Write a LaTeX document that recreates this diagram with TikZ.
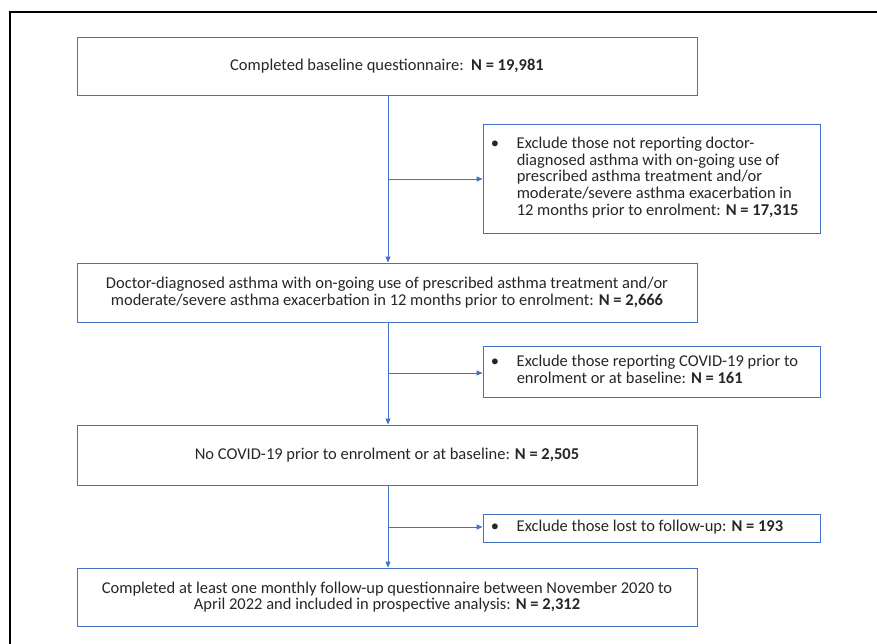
\documentclass[tikz,border=0pt]{standalone}
\usepackage{fontspec}
\setmainfont{Carlito}
\usetikzlibrary{arrows.meta}
\definecolor{obl}{HTML}{4472C4}
\definecolor{txt}{HTML}{262626}
\tikzset{
  box/.style={draw=obl, line width=0.9pt, rectangle, inner sep=0pt, align=center, text=txt,
    font=\fontsize{16.5}{16.8}\selectfont},
  exbox/.style={draw=obl, line width=0.9pt, rectangle, inner sep=0pt},
  extxt/.style={anchor=west, inner sep=0pt, text=txt, font=\fontsize{16.5}{16.8}\selectfont},
  conn/.style={draw=obl, line width=0.9pt, -{Triangle[length=6pt,width=5pt]}},
}
\newcommand{\exlist}[1]{\begin{tabular}{@{}p{26pt}@{}l@{}}\textbullet & #1\end{tabular}}
\begin{document}
\begin{tikzpicture}[x=1pt,y=-1pt]
\useasboundingbox (0,0) rectangle (877,644);
\draw[line width=2.6pt] (10,650) -- (10,12) -- (885,12);

\node[box, minimum width=620, minimum height=58] (b1) at (387,66)
  {Completed baseline questionnaire:\ \ \textbf{N = 19,981}};
\node[exbox, minimum width=337, minimum height=109] (b2) at (651.5,178.5) {};
\node[extxt] (t2) at ([xshift=8pt]b2.west) {\exlist{Exclude those not reporting doctor-\\ & diagnosed asthma with on-going use of\\ & prescribed asthma treatment and/or\\ & moderate/severe asthma exacerbation in\\ & 12 months prior to enrolment: \textbf{N = 17,315}}};
\node[box, minimum width=620, minimum height=59] (b3) at (387,292.5)
  {Doctor-diagnosed asthma with on-going use of prescribed asthma treatment and/or\\
   moderate/severe asthma exacerbation in 12 months prior to enrolment: \textbf{N = 2,666}};
\node[exbox, minimum width=337, minimum height=51] (b4) at (651.5,372) {};
\node[extxt] (t4) at ([xshift=8pt]b4.west) {\exlist{Exclude those reporting COVID-19 prior to\\ & enrolment or at baseline: \textbf{N = 161}}};
\node[box, minimum width=620, minimum height=60] (b5) at (387,455)
  {No COVID-19 prior to enrolment or at baseline: \textbf{N = 2,505}};
\node[exbox, minimum width=337, minimum height=28] (b6) at (651.5,528) {};
\node[extxt] (t6) at ([xshift=8pt]b6.west) {\exlist{Exclude those lost to follow-up: \textbf{N = 193}}};
\node[box, minimum width=620, minimum height=58] (b7) at (387,597)
  {Completed at least one monthly follow-up questionnaire between November 2020 to\\
   April 2022 and included in prospective analysis: \textbf{N = 2,312}};

\draw[conn] ([xshift=1pt]b1.south) -- ([xshift=1pt]b3.north);
\draw[conn] ([xshift=1pt]b3.south) -- ([xshift=1pt]b5.north);
\draw[conn] ([xshift=1pt]b5.south) -- ([xshift=1pt]b7.north);
\coordinate (j1) at (388,179);
\coordinate (j2) at (388,373);
\coordinate (j3) at (388,527);
\draw[conn] (j1) -- (j1 -| b2.west);
\draw[conn] (j2) -- (j2 -| b4.west);
\draw[conn] (j3) -- (j3 -| b6.west);
\end{tikzpicture}
\end{document}
